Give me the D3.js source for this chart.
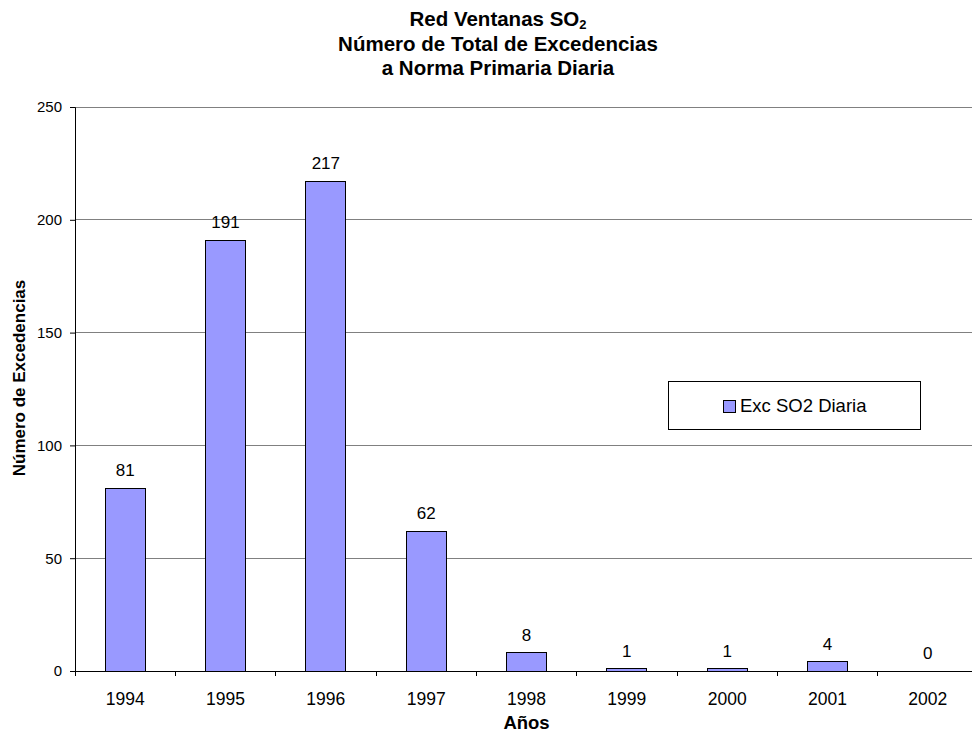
<!DOCTYPE html>
<html>
<head>
<meta charset="utf-8">
<script src="https://cdn.jsdelivr.net/npm/d3@7"></script>
<style>
  html, body { margin: 0; padding: 0; background: #fff; }
  svg { display: block; font-family: "Liberation Sans", Arial, sans-serif; }
</style>
</head>
<body>
<svg id="chart" width="972" height="738"></svg>
<script>
// Annual count of exceedances of the daily primary SO2 standard
const years = ["1994", "1995", "1996", "1997", "1998", "1999", "2000", "2001", "2002"];
const exceedances = [81, 191, 217, 62, 8, 1, 1, 4, 0];
const yTicks = [0, 50, 100, 150, 200, 250];
const seriesName = "Exc SO2 Diaria";

const svg = d3.select("#chart");
const plot = { left: 75, right: 978, top: 107, bottom: 671 };

const x = d3.scaleBand().domain(years).range([plot.left, plot.right]).paddingInner(0.6).paddingOuter(0.3);
const xEdge = d3.scaleBand().domain(years).range([plot.left, plot.right]);
const y = d3.scaleLinear().domain([0, 250]).range([plot.bottom, plot.top]);

// Horizontal gridlines
svg.append("g").selectAll("line").data(yTicks.filter(d => d > 0)).join("line")
  .attr("x1", plot.left).attr("x2", plot.right)
  .attr("y1", d => y(d)).attr("y2", d => y(d))
  .attr("stroke", "#808080").attr("stroke-width", 1).attr("shape-rendering", "crispEdges");

// Bars
svg.append("g").selectAll("rect").data(years).join("rect")
  .attr("x", d => x(d)).attr("width", x.bandwidth())
  .attr("y", (d, i) => y(exceedances[i]))
  .attr("height", (d, i) => y(0) - y(exceedances[i]))
  .attr("fill", "#9999ff").attr("stroke", "#000").attr("stroke-width", 1)
  .attr("shape-rendering", "crispEdges");

// Value labels
svg.append("g").selectAll("text").data(years).join("text")
  .attr("x", d => x(d) + x.bandwidth() / 2)
  .attr("y", (d, i) => y(exceedances[i]) - 12)
  .attr("text-anchor", "middle").attr("font-size", 17).attr("fill", "#000")
  .text((d, i) => exceedances[i]);

// Y axis
const yAxis = d3.axisLeft(y).tickValues(yTicks).tickSize(5).tickPadding(8);
const gy = svg.append("g").attr("transform", `translate(${plot.left},0)`).call(yAxis);
gy.select(".domain").attr("stroke", "#000");
gy.selectAll(".tick line").attr("stroke", "#000");
gy.selectAll("text").attr("font-size", 15).attr("font-family", "Liberation Sans, Arial, sans-serif").attr("fill", "#000");

// X axis: ticks between categories
const gx = svg.append("g").attr("transform", `translate(0,${plot.bottom})`);
gx.append("line").attr("x1", plot.left).attr("x2", plot.right).attr("stroke", "#000").attr("shape-rendering", "crispEdges");
gx.selectAll("line.tk").data(years).join("line").attr("class", "tk")
  .attr("x1", d => xEdge(d)).attr("x2", d => xEdge(d))
  .attr("y1", 0).attr("y2", 5).attr("stroke", "#000").attr("shape-rendering", "crispEdges");
gx.selectAll("text").data(years).join("text")
  .attr("x", d => x(d) + x.bandwidth() / 2).attr("y", 34)
  .attr("text-anchor", "middle").attr("font-size", 17.5).attr("fill", "#000")
  .text(d => d);

// Title
const cx = 498;
const title = svg.append("text").attr("text-anchor", "middle").attr("font-weight", "bold").attr("font-size", 20.5).attr("fill", "#000");
const t1 = title.append("tspan").attr("x", cx).attr("y", 26);
t1.append("tspan").text("Red Ventanas SO");
t1.append("tspan").attr("font-size", 13).attr("dy", 3).text("2");
title.append("tspan").attr("x", cx).attr("y", 51).text("Número de Total de Excedencias");
title.append("tspan").attr("x", cx).attr("y", 75).text("a Norma Primaria Diaria");

// Axis titles
svg.append("text").attr("x", (plot.left + plot.right) / 2).attr("y", 729).attr("text-anchor", "middle")
  .attr("font-weight", "bold").attr("font-size", 18.5).text("Años");
svg.append("text").attr("transform", "translate(25,378) rotate(-90)").attr("text-anchor", "middle")
  .attr("font-weight", "bold").attr("font-size", 17).text("Número de Excedencias");

// Legend
const lg = svg.append("g");
lg.append("rect").attr("x", 668).attr("y", 381).attr("width", 252).attr("height", 48)
  .attr("fill", "#fff").attr("stroke", "#000").attr("shape-rendering", "crispEdges");
lg.append("rect").attr("x", 723).attr("y", 400).attr("width", 12).attr("height", 12)
  .attr("fill", "#9999ff").attr("stroke", "#000").attr("shape-rendering", "crispEdges");
lg.append("text").attr("x", 740).attr("y", 412).attr("font-size", 18.5).text(seriesName);
</script>
</body>
</html>
